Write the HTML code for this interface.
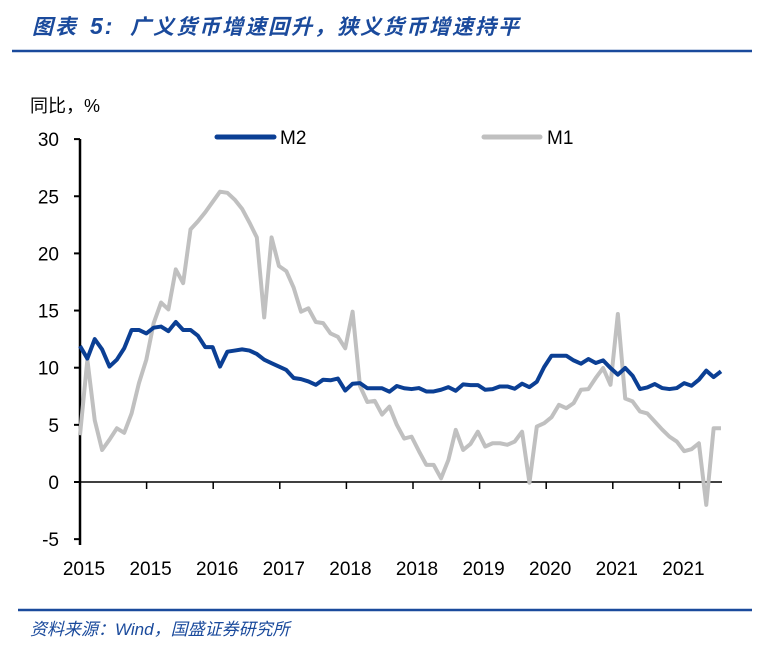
<!DOCTYPE html>
<html><head><meta charset="utf-8"><style>
body{margin:0;background:#fff;width:771px;height:649px;overflow:hidden;font-family:"Liberation Sans","Noto Sans CJK SC",sans-serif}
</style></head><body>
<svg width="771" height="649" xmlns="http://www.w3.org/2000/svg">
<text y="34" font-size="21" font-weight="bold" font-style="italic" fill="#1a4a9c" letter-spacing="2" font-family="Liberation Sans,Noto Sans CJK SC,sans-serif"><tspan x="32">图表</tspan><tspan x="90" font-size="23">5:</tspan><tspan x="130">广义货币增速回升，狭义货币增速持平</tspan></text>
<line x1="12" y1="51" x2="752" y2="51" stroke="#1a4a9c" stroke-width="2.5"/>
<text x="30" y="112" font-size="18" fill="#000">同比，%</text>
<g id="axes"></g>
<g id="series"></g>
<g>
<line x1="217" y1="137" x2="274" y2="137" stroke="#0b3f94" stroke-width="5" stroke-linecap="round"/>
<text x="280" y="144" font-size="19">M2</text>
<line x1="484" y1="137" x2="540" y2="137" stroke="#c0c0c0" stroke-width="5" stroke-linecap="round"/>
<text x="547" y="144" font-size="19">M1</text>
</g>
<line x1="18" y1="610" x2="752" y2="610" stroke="#1a4a9c" stroke-width="2.5"/>
<text x="30" y="635" font-size="17" font-style="italic" fill="#1a4a9c">资料来源：Wind，国盛证券研究所</text>
</svg>
<script>
const xLabels=["2015","2015","2016","2017","2018","2018","2019","2020","2021","2021"];
const yTicks=[30,25,20,15,10,5,0,-5];
const m2=[11.9,10.8,12.5,11.6,10.1,10.7,11.7,13.3,13.3,13.0,13.5,13.6,13.2,14.0,13.3,13.3,12.8,11.8,11.8,10.1,11.4,11.5,11.6,11.5,11.2,10.7,10.4,10.1,9.8,9.1,9.0,8.8,8.5,8.95,8.9,9.05,8.0,8.6,8.65,8.2,8.2,8.2,7.9,8.4,8.2,
8.13,8.22,7.92,7.92,8.07,8.3,7.98,8.54,8.48,8.48,8.07,8.13,8.36,8.36,8.16,8.6,8.3,8.77,10.06,11.05,11.05,11.05,10.64,10.35,10.76,10.41,10.64,9.97,9.39,9.97,9.3,8.13,8.27,8.57,8.22,8.13,8.22,8.65,8.42,8.95,9.74,9.18,9.68];
const m1=[4.1,10.7,5.4,2.8,3.7,4.7,4.3,6.0,8.65,10.7,13.9,15.7,15.1,18.6,17.4,22.1,22.8,23.6,24.5,25.4,25.3,24.7,23.9,22.7,21.4,14.4,21.4,18.9,18.45,17.0,14.9,15.2,14.0,13.9,13.0,12.7,11.7,14.9,8.4,7.0,7.1,5.9,6.6,5.0,3.8,
3.97,2.7,1.5,1.5,0.32,1.93,4.56,2.8,3.33,4.4,3.1,3.39,3.39,3.25,3.54,4.4,-0.06,4.85,5.15,5.67,6.75,6.46,6.9,8.07,8.13,9.1,9.97,8.5,14.7,7.3,7.05,6.17,6.0,5.3,4.6,3.97,3.54,2.7,2.87,3.39,-2.0,4.7,4.7];
const NS="http://www.w3.org/2000/svg";
const X0=80,X1=721,TX=66.6;
function y(v){return 482-v*11.43;}
function x(i,n){return X0+(X1-X0)*i/(n-1);}
function mk(t,a,p){const e=document.createElementNS(NS,t);for(const k in a)e.setAttribute(k,a[k]);p.appendChild(e);return e;}
const ax=document.getElementById('axes');
let l=mk('line',{x1:X0,y1:139,x2:X0,y2:545,stroke:'#000','stroke-width':2.5},ax);


yTicks.forEach(v=>{
 const t=mk('line',{x1:X0-6,y1:y(v),x2:X0,y2:y(v),stroke:'#000','stroke-width':2},ax);
 
 
 const tx=mk('text',{x:59,y:y(v)+7,'font-size':19,'text-anchor':'end'},ax);tx.textContent=v;
 
 
});
l=mk('line',{x1:X0,y1:y(0),x2:722,y2:y(0),stroke:'#000','stroke-width':1.5},ax);


xLabels.forEach((s,i)=>{
 const px=X0+i*TX;
 const t=mk('line',{x1:px,y1:y(0),x2:px,y2:y(0)+7,stroke:'#000','stroke-width':1.5},ax);
 
 
 const tx=mk('text',{x:px+4,y:575,'font-size':19,'text-anchor':'middle'},ax);tx.textContent=s;
 
 
});
const sg=document.getElementById('series');
function line(d,c,name){
 const p=mk('polyline',{points:d.map((v,i)=>x(i,d.length)+','+y(v)).join(' '),fill:'none',stroke:c,'stroke-width':4,'stroke-linejoin':'round'},sg);
 
 
}
line(m1,'#c0c0c0','m1-line');
line(m2,'#0b3f94','m2-line');
</script>
</body></html>
